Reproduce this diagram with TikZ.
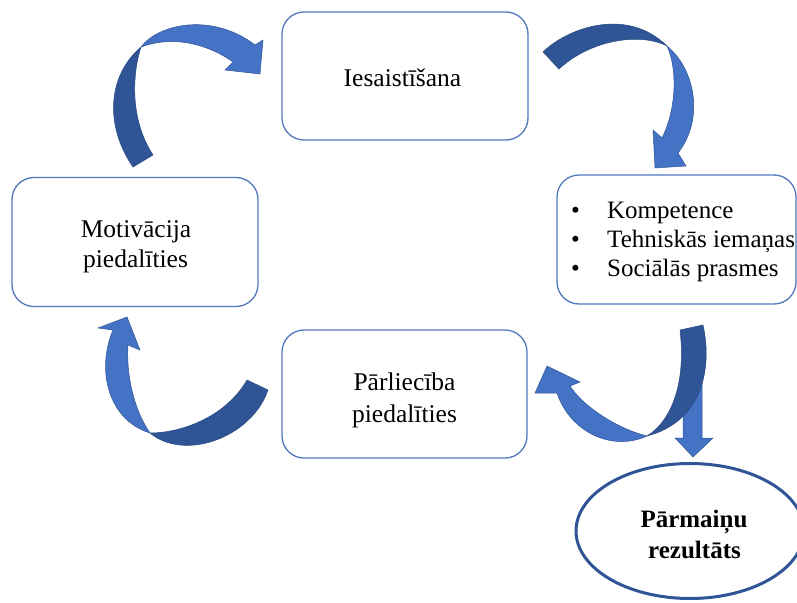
\documentclass[tikz,border=0pt]{standalone}
\usepackage{fontspec}
\setmainfont{Liberation Serif}
\usetikzlibrary{shapes.geometric}
\definecolor{boxblue}{RGB}{84,120,190}
\definecolor{darkarr}{RGB}{47,85,151}
\definecolor{lightarr}{RGB}{68,114,196}
\definecolor{ellblue}{RGB}{47,85,151}
\begin{document}
\begin{tikzpicture}[x=1pt,y=-1pt,
  stagebox/.style={draw=boxblue, line width=1.3pt, rounded corners=22pt, fill=white,
    inner sep=0pt, minimum width=246pt, minimum height=128pt},
  boxtext/.style={anchor=base, inner sep=0pt, font=\fontsize{25.5}{30}\selectfont},
  itemtext/.style={anchor=base west, inner sep=0pt, font=\fontsize{25}{30}\selectfont},
  resultell/.style={ellipse, draw=ellblue, line width=3pt, inner sep=0pt,
    minimum width=228pt, minimum height=135pt},
  restext/.style={anchor=base, inner sep=0pt, font=\fontsize{25}{31}\selectfont\bfseries},
  darkpart/.style={fill=darkarr, draw=darkarr!85!black, line width=0.5pt},
  lightpart/.style={fill=lightarr, draw=darkarr, line width=0.5pt}]
\useasboundingbox (0,0) rectangle (797,602);
\clip (0,0) rectangle (797,602);

% boxes
\node[stagebox] (ies) at (405,76) {};
\node[stagebox, minimum height=129pt] (mot) at (135,242) {};
\node[stagebox, minimum width=239pt, minimum height=129pt] (komp) at (676.5,239.5) {};
\node[stagebox, minimum width=245pt] (parl) at (404.5,394) {};

\node[boxtext] (iesT) at (402.5,86) {Iesaistīšana};
\node[boxtext] (motA) at (136,237) {Motivācija};
\node[boxtext] (motB) at (135.5,267) {piedalīties};
\node[boxtext] (parA) at (404.5,390) {Pārliecība};
\node[boxtext] (parB) at (404.5,422) {piedalīties};
\node[itemtext] (k1) at (571,218) {\makebox[36pt][l]{•}Kompetence};
\node[itemtext] (k2) at (571,247) {\makebox[36pt][l]{•}Tehniskās iemaņas};
\node[itemtext] (k3) at (571,276) {\makebox[36pt][l]{•}Sociālās prasmes};

% result ellipse
\node[resultell] (res) at (690,531) {};
\node[restext] (resA) at (694,527) {Pārmaiņu};
\node[restext] (resB) at (694.5,558) {rezultāts};

% arrow 1 (Motivācija -> Iesaistīšana)
\fill[darkpart] (133,167) .. controls (104,125) and (108,75) .. (141,47)
  .. controls (132,75) and (130,120) .. (153,155) -- cycle;
\fill[lightpart] (141,47) .. controls (158,24) and (212,12) .. (255,45)
  -- (263,40) -- (260,74) -- (225,70) -- (233,62)
  .. controls (205,42) and (170,36) .. (141,47) -- cycle;

% arrow 2 (Iesaistīšana -> Kompetence)
\fill[darkpart] (543,52) .. controls (565,30) and (625,5) .. (667,46)
  .. controls (640,32) and (590,40) .. (559,69) -- cycle;
\fill[lightpart] (667,46) .. controls (696,70) and (704,120) .. (678,153)
  -- (686,166) -- (655,168) -- (653,130) -- (662,138)
  .. controls (676,110) and (678,70) .. (667,46) -- cycle;

% straight arrow down to result
\fill[lightpart] (683,360) -- (702,360) -- (702,438) -- (713,438) -- (693,457)
  -- (675,438) -- (683,438) -- cycle;

% arrow 3 (Kompetence -> Pārliecība)
\fill[darkpart] (703,325) .. controls (713,370) and (701,422) .. (647,436)
  .. controls (673,420) and (686,380) .. (680,330) -- cycle;
\fill[lightpart] (647,436) .. controls (612,452) and (570,432) .. (557,393)
  -- (535,393) -- (547,366) -- (580,382) -- (570,386)
  .. controls (582,405) and (615,428) .. (647,436) -- cycle;

% arrow 4 (Pārliecība -> Motivācija)
\fill[darkpart] (268,390) .. controls (252,437) and (185,462) .. (150,433)
  .. controls (180,433) and (225,418) .. (247,380) -- cycle;
\fill[lightpart] (150,433) .. controls (108,420) and (96,370) .. (113,330)
  -- (98,328) -- (127,317) -- (140,350) -- (128,345)
  .. controls (126,375) and (134,410) .. (150,433) -- cycle;
\end{tikzpicture}
\end{document}
